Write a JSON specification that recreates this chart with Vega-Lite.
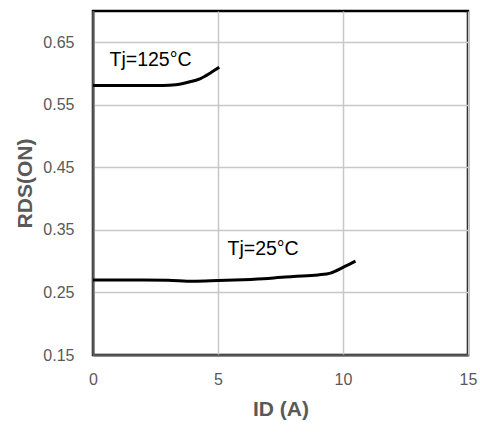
{
  "$schema": "https://vega.github.io/schema/vega-lite/v6.json",
  "width": 375,
  "height": 344,
  "autosize": {"type": "none"},
  "padding": {"left": 93, "top": 11, "right": 12, "bottom": 80},
  "background": "white",
  "config": {
    "view": {"stroke": "#000000", "strokeWidth": 2.5},
    "font": "Liberation Sans"
  },
  "datasets": {
    "curves": [
      {"id": 0, "r": 0.581, "tj": "125"},
      {"id": 1, "r": 0.581, "tj": "125"},
      {"id": 2, "r": 0.581, "tj": "125"},
      {"id": 2.8, "r": 0.581, "tj": "125"},
      {"id": 3.3, "r": 0.582, "tj": "125"},
      {"id": 3.8, "r": 0.586, "tj": "125"},
      {"id": 4.3, "r": 0.592, "tj": "125"},
      {"id": 4.7, "r": 0.601, "tj": "125"},
      {"id": 5.05, "r": 0.61, "tj": "125"},
      {"id": 0, "r": 0.27, "tj": "25"},
      {"id": 2, "r": 0.27, "tj": "25"},
      {"id": 3, "r": 0.2695, "tj": "25"},
      {"id": 4, "r": 0.2678, "tj": "25"},
      {"id": 5, "r": 0.269, "tj": "25"},
      {"id": 6, "r": 0.2705, "tj": "25"},
      {"id": 7, "r": 0.2725, "tj": "25"},
      {"id": 8, "r": 0.2755, "tj": "25"},
      {"id": 9, "r": 0.278, "tj": "25"},
      {"id": 9.5, "r": 0.281, "tj": "25"},
      {"id": 10, "r": 0.29, "tj": "25"},
      {"id": 10.5, "r": 0.3, "tj": "25"}
    ],
    "labels": [
      {"id": 0.66, "r": 0.621, "t": "Tj=125°C"},
      {"id": 5.38, "r": 0.319, "t": "Tj=25°C"}
    ]
  },
  "encoding": {
    "x": {
      "field": "id", "type": "quantitative",
      "scale": {"domain": [0, 15], "nice": false},
      "axis": {
        "values": [0, 5, 10, 15],
        "grid": true,
        "gridColor": "#c8c8c8",
        "gridWidth": 1.5,
        "gridOpacity": 1,
        "labelFlush": false,
        "title": "ID (A)",
        "titleFont": "Liberation Sans",
        "titleFontSize": 21,
        "titleFontWeight": "bold",
        "titleColor": "#595959",
        "titleBaseline": "middle",
        "titleY": 54,
        "labelFontSize": 16,
        "labelColor": "#595959",
        "labelPadding": 16,
        "tickSize": 0,
        "domainColor": "#595959",
        "domainWidth": 2
      }
    },
    "y": {
      "field": "r", "type": "quantitative",
      "scale": {"domain": [0.15, 0.7], "nice": false, "zero": false},
      "axis": {
        "values": [0.15, 0.25, 0.35, 0.45, 0.55, 0.65],
        "grid": true,
        "gridColor": "#c8c8c8",
        "gridWidth": 1.5,
        "gridOpacity": 1,
        "labelFlush": false,
        "format": ".2f",
        "title": "RDS(ON)",
        "titleFont": "Liberation Sans",
        "titleFontSize": 21,
        "titleFontWeight": "bold",
        "titleColor": "#595959",
        "titleX": -68,
        "titleY": 172,
        "titleAngle": -90,
        "titleBaseline": "middle",
        "titleAlign": "center",
        "labelFontSize": 16,
        "labelColor": "#595959",
        "labelPadding": 19,
        "tickSize": 0,
        "domainColor": "#595959",
        "domainWidth": 2
      }
    }
  },
  "layer": [
    {
      "data": {"name": "curves"},
      "mark": {"type": "line", "color": "#000000", "strokeWidth": 3, "interpolate": "monotone", "clip": true},
      "encoding": {
        "detail": {"field": "tj", "type": "nominal"}
      }
    },
    {
      "data": {"name": "labels"},
      "mark": {"type": "text", "align": "left", "baseline": "middle", "fontSize": 19.5, "color": "#000000", "font": "Liberation Sans"},
      "encoding": {
        "text": {"field": "t"}
      }
    }
  ]
}
